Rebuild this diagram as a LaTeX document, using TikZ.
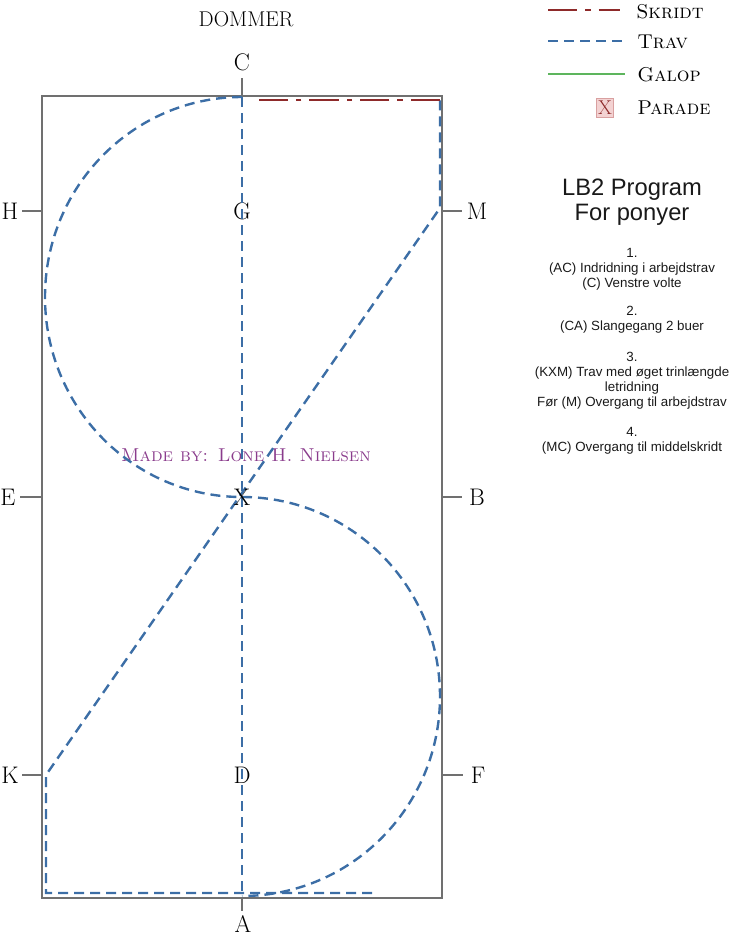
\documentclass[tikz,border=0pt]{standalone}
\usepackage{fontspec}
\newfontfamily\sansf{Liberation Sans}
\definecolor{travblue}{HTML}{3C6EA6}
\definecolor{skridtred}{HTML}{8E2A2A}
\definecolor{galopgreen}{HTML}{5DB55D}
\definecolor{arenagray}{HTML}{707070}
\definecolor{madepurple}{HTML}{8A3C8C}
\definecolor{pinkfill}{HTML}{F3D2D2}
\definecolor{pinkborder}{HTML}{D9A0A0}
\begin{document}
\begin{tikzpicture}[x=0.75pt,y=-0.75pt,
  trav/.style={draw=travblue, line width=1.8pt, dash pattern=on 7.5pt off 4.5pt},
  skridt/.style={draw=skridtred, line width=1.8pt, dash pattern=on 22pt off 6pt on 4pt off 6pt},
  galop/.style={draw=galopgreen, line width=1.8pt},
  letter/.style={font=\fontsize{18}{20}\selectfont, inner sep=0pt},
  legendlabel/.style={font=\fontsize{15}{17}\selectfont, inner sep=0pt, anchor=west},
  tick/.style={draw=arenagray, line width=0.9pt},
  info/.style={font=\sansf\fontsize{10}{11.25}\selectfont, align=center, inner sep=0pt, text=black!90}
]
\useasboundingbox (0,0) rectangle (728,938);
% arena
\draw[draw=arenagray, line width=0.9pt] (42,96) rectangle (442,898);
% markers
\coordinate (C) at (242,96);
\coordinate (A) at (242,898);
\coordinate (H) at (42,211);
\coordinate (M) at (442,211);
\coordinate (E) at (42,497);
\coordinate (B) at (442,497);
\coordinate (K) at (42,775);
\coordinate (F) at (442,775);
\node[letter] (lC) at (242,62) {C};
\node[letter] (lA) at (243,924) {A};
\node[letter] (lH) at (10,211) {H};
\node[letter] (lM) at (477,211) {M};
\node[letter] (lE) at (8,497) {E};
\node[letter] (lB) at (477,497) {B};
\node[letter] (lK) at (10,775) {K};
\node[letter] (lF) at (478,775) {F};
\node[letter] (lG) at (242,211) {G};
\node[letter] (lD) at (242,775) {D};
\node[letter, font=\fontsize{16}{18}\selectfont] (title) at (246,19) {DOMMER};
\draw[tick] (C) -- (242,78);
\draw[tick] (A) -- (242,911);
\draw[tick] (H) -- (22,211);
\draw[tick] (M) -- (462,211);
\draw[tick] (E) -- (20,497);
\draw[tick] (B) -- (462,497);
\draw[tick] (K) -- (22,775);
\draw[tick] (F) -- (463,775);
% made by
\node[text=madepurple, font=\fontsize{14}{16}\selectfont, inner sep=0pt] (made) at (246,455) {\textsc{Made by: Lone H. Nielsen}};
% track
\coordinate (Ct) at (242,97);
\coordinate (Xp) at (242,497);
\coordinate (At) at (242,896);
\coordinate (Mc) at (440,208);
\coordinate (Kc) at (46,775);
\coordinate (MCor) at (440,100);
\coordinate (KCor) at (46,893);
\coordinate (Bend) at (372,893);
\coordinate (Sk) at (258,100);
\draw[trav] (Ct) -- (At);
\draw[trav] (Ct) arc[start angle=270, end angle=90, x radius=197, y radius=200];
\draw[trav] (Xp) arc[start angle=-90, end angle=90, x radius=198, y radius=199.5];
\draw[trav] (Bend) -- (KCor) -- (Kc) -- (Mc) -- (MCor);
\draw[skridt] (MCor) -- (Sk);
\node[letter] (lX) at (242,497) {X};
% legend
\coordinate (s1) at (548,10); \coordinate (s2) at (620,10);
\coordinate (t1) at (548,41); \coordinate (t2) at (622,41);
\coordinate (g1) at (548,74); \coordinate (g2) at (625,74);
\draw[skridt] (s1) -- (s2);
\draw[trav] (t1) -- (t2);
\draw[galop] (g1) -- (g2);
\node[legendlabel] (ls) at (636,12) {\textsc{Skridt}};
\node[legendlabel] (lt) at (637,42) {\textsc{Trav}};
\node[legendlabel] (lg) at (637,75) {\textsc{Galop}};
\node[legendlabel] (lp) at (637,108) {\textsc{Parade}};
\node[draw=pinkborder, fill=pinkfill, inner sep=0pt, minimum width=13pt, minimum height=14pt, text=skridtred, font=\fontsize{15}{15}\selectfont] (pbox) at (605,108) {X};
% program text
\node[info, font=\sansf\fontsize{17.8}{19}\selectfont] (ptitle) at (632,202) {LB2 Program\\For ponyer};
\node[info] (p1) at (632,269) {1.\\(AC) Indridning i arbejdstrav\\(C) Venstre volte};
\node[info] (p2) at (632,319.5) {2.\\(CA) Slangegang 2 buer};
\node[info] (p3) at (632,380.5) {3.\\(KXM) Trav med øget trinlængde\\letridning\\Før (M) Overgang til arbejdstrav};
\node[info] (p4) at (632,440.5) {4.\\(MC) Overgang til middelskridt};
\end{tikzpicture}
\end{document}
